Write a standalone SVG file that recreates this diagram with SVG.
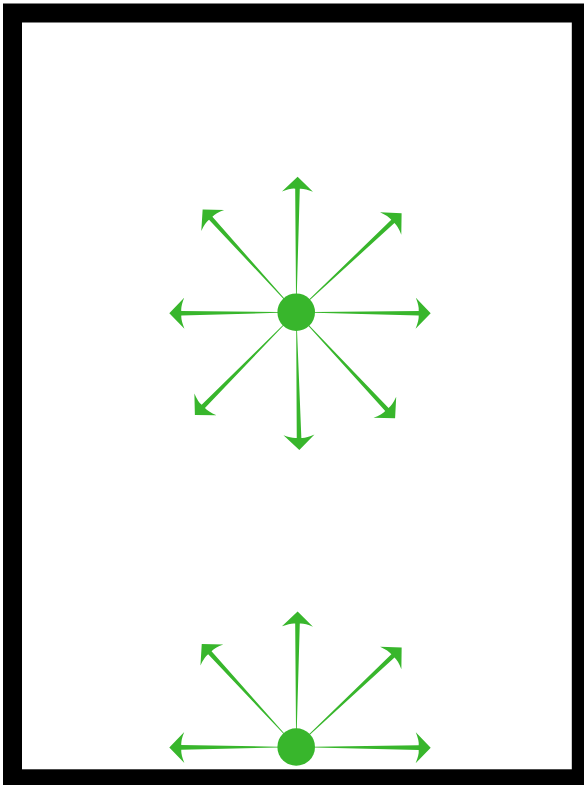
<svg xmlns="http://www.w3.org/2000/svg" width="584" height="785" viewBox="0 0 584 785">
<style>
.arrow{fill:#38b62c;stroke:none}
.node{fill:#38b62c;stroke:none}
.frame{fill:none;stroke:#000;stroke-width:19}
</style>
<rect x="0" y="0" width="584" height="785" fill="#fff"/>
<g id="connectors">
  <g id="arrows-top" transform="translate(296.2 312.2)">
    <path class="arrow" transform="rotate(-89.4)" d="M135.5 0 L120.5 -15.5 Q124 -7 123.5 -2.3 L18 -0.4 L18 0.4 L123.5 2.3 Q124 7 120.5 15.5 Z"/>
    <path class="arrow" transform="rotate(0.5)" d="M134.5 0 L119.5 -15.5 Q123 -7 122.5 -2.3 L18 -0.4 L18 0.4 L122.5 2.3 Q123 7 119.5 15.5 Z"/>
    <path class="arrow" transform="rotate(179.5)" d="M126.9 0 L111.9 -15.5 Q115.4 -7 114.9 -2.3 L18 -0.4 L18 0.4 L114.9 2.3 Q115.4 7 111.9 15.5 Z"/>
    <path class="arrow" transform="rotate(88.7)" d="M137.8 0 L122.8 -15.5 Q126.3 -7 125.8 -2.3 L18 -0.4 L18 0.4 L125.8 2.3 Q126.3 7 122.8 15.5 Z"/>
    <path class="arrow" transform="rotate(-132.3)" d="M139 0 L124 -15.5 Q127.5 -7 127 -2.3 L18 -0.4 L18 0.4 L127 2.3 Q127.5 7 124 15.5 Z"/>
    <path class="arrow" transform="rotate(-43.2)" d="M144.6 0 L129.6 -15.5 Q133.1 -7 132.6 -2.3 L18 -0.4 L18 0.4 L132.6 2.3 Q133.1 7 129.6 15.5 Z"/>
    <path class="arrow" transform="rotate(134.6)" d="M144.3 0 L129.3 -15.5 Q132.8 -7 132.3 -2.3 L18 -0.4 L18 0.4 L132.3 2.3 Q132.8 7 129.3 15.5 Z"/>
    <path class="arrow" transform="rotate(47)" d="M145 0 L130 -15.5 Q133.5 -7 133 -2.3 L18 -0.4 L18 0.4 L133 2.3 Q133.5 7 130 15.5 Z"/>
  </g>
  <g id="arrows-bottom" transform="translate(296.2 747)">
    <path class="arrow" transform="rotate(-89.4)" d="M135.5 0 L120.5 -15.5 Q124 -7 123.5 -2.3 L18 -0.4 L18 0.4 L123.5 2.3 Q124 7 120.5 15.5 Z"/>
    <path class="arrow" transform="rotate(0.3)" d="M134.5 0 L119.5 -15.5 Q123 -7 122.5 -2.3 L18 -0.4 L18 0.4 L122.5 2.3 Q123 7 119.5 15.5 Z"/>
    <path class="arrow" transform="rotate(179.8)" d="M126.9 0 L111.9 -15.5 Q115.4 -7 114.9 -2.3 L18 -0.4 L18 0.4 L114.9 2.3 Q115.4 7 111.9 15.5 Z"/>
    <path class="arrow" transform="rotate(-132.5)" d="M139.8 0 L124.8 -15.5 Q128.3 -7 127.8 -2.3 L18 -0.4 L18 0.4 L127.8 2.3 Q128.3 7 124.8 15.5 Z"/>
    <path class="arrow" transform="rotate(-43.3)" d="M144.9 0 L129.9 -15.5 Q133.4 -7 132.9 -2.3 L18 -0.4 L18 0.4 L132.9 2.3 Q133.4 7 129.9 15.5 Z"/>
  </g>
</g>
<g id="node-top"><circle class="node" cx="296.2" cy="312.2" r="18.8"/></g>
<g id="node-bottom"><circle class="node" cx="296.2" cy="747" r="18.8"/></g>
<rect class="frame" x="12.5" y="13" width="568.8" height="765.8"/>
</svg>
